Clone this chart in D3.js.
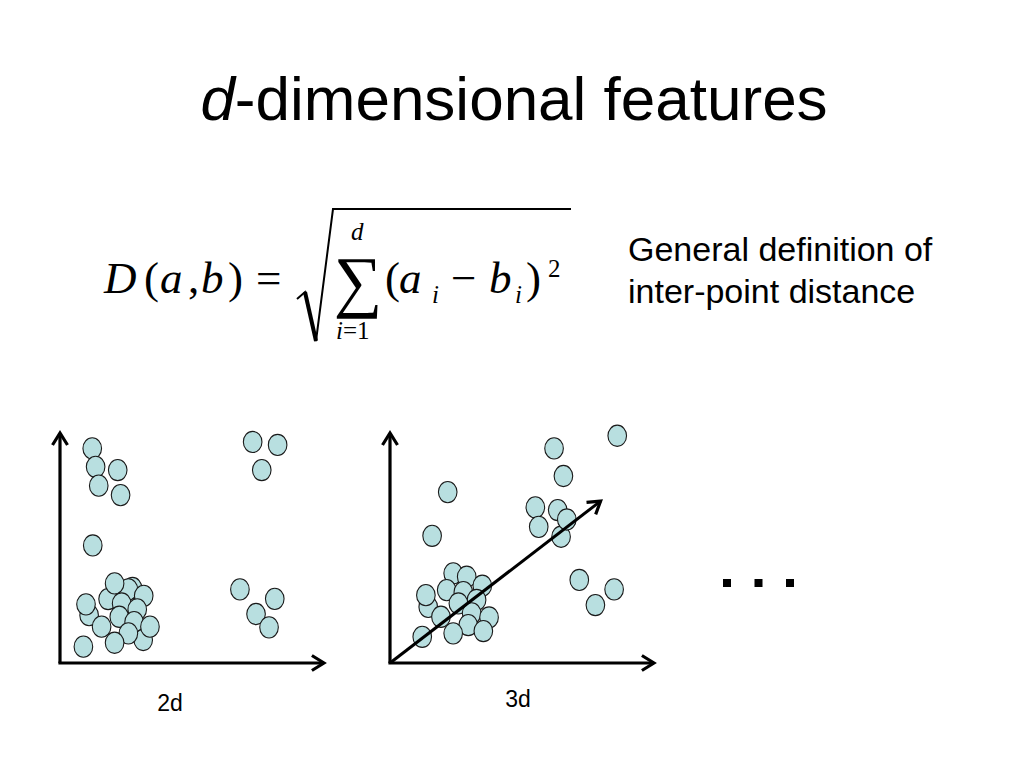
<!DOCTYPE html>
<html>
<head>
<meta charset="utf-8">
<script src="https://cdn.jsdelivr.net/npm/d3@7"></script>
<style>
  html, body { margin: 0; padding: 0; background: #fff; }
  svg { display: block; }
</style>
</head>
<body>
<script>
// ---------- data ----------
const title = ["d", "-dimensional features"];
const noteLines = ["General definition of", "inter-point distance"];
const panelLabels = ["2d", "3d"];

// 2d scatter points (x, y) in 0-100 units
const points2d = [
  [12.4, 93.3], [13.7, 85.3], [22.2, 83.9], [14.9, 77.1], [23.3, 73.0],
  [12.6, 51.1], [74.1, 96.1], [83.7, 94.8], [77.6, 83.9],
  [27.9, 32.6], [26.3, 32.0], [18.5, 27.8], [21.0, 34.6], [23.7, 25.9],
  [32.2, 29.2], [11.2, 20.8], [10.0, 25.5], [29.7, 23.3], [22.8, 20.1],
  [28.5, 17.8], [16.0, 15.8], [32.0, 10.0], [34.6, 15.8], [26.3, 12.9],
  [21.0, 8.8], [9.0, 7.1],
  [69.2, 32.0], [82.6, 27.9], [75.4, 21.3], [80.4, 15.5]
];

// 3d projected scatter points (x, y) in 0-100 units
const points3d = [
  [87.4, 98.8], [63.1, 93.3], [66.7, 81.3], [22.2, 74.3], [55.9, 67.7],
  [64.5, 66.5], [57.2, 59.2], [65.8, 54.9], [68.0, 62.4], [16.2, 55.3],
  [72.8, 36.1], [86.2, 32.0], [79.0, 25.2],
  [24.3, 39.0], [29.5, 37.5], [21.8, 31.7], [35.5, 33.6], [14.7, 24.4],
  [13.8, 29.5], [28.2, 30.8], [33.3, 27.4], [26.3, 25.9], [19.6, 20.1],
  [31.4, 21.6], [38.1, 19.8], [30.1, 16.5], [24.3, 12.9], [35.9, 13.9],
  [12.4, 11.4]
];
const direction3d = [[0, 0], [81.0, 70.4]];
const axisEnds = { x: 101.5, y: 100 };
const ellipsisDots = [0, 1, 2];

// ---------- drawing ----------
const W = 1024, H = 768;
const svg = d3.select("body").append("svg").attr("width", W).attr("height", H);

const defs = svg.append("defs");
defs.append("marker")
  .attr("id", "chev")
  .attr("markerUnits", "userSpaceOnUse")
  .attr("viewBox", "-16 -10 20 20")
  .attr("refX", 0).attr("refY", 0)
  .attr("markerWidth", 20).attr("markerHeight", 20)
  .attr("orient", "auto")
  .append("path")
  .attr("d", "M-12,-7.5 L0,0 L-12,7.5")
  .attr("fill", "none").attr("stroke", "#000")
  .attr("stroke-width", 3.2).attr("stroke-linejoin", "miter");

// Title
const t = svg.append("text")
  .attr("x", 514).attr("y", 120)
  .attr("text-anchor", "middle")
  .attr("font-family", "Liberation Sans, Arial, sans-serif")
  .attr("font-size", 62).attr("fill", "#000");
t.append("tspan").attr("font-style", "italic").text(title[0]);
t.append("tspan").text(title[1]);

// Formula
const serif = "Liberation Serif, Times New Roman, serif";
const fg = svg.append("g").attr("font-family", serif).attr("fill", "#000");
const glyphs = [
  { s: "D", x: 104, y: 293, fs: 45, it: true },
  { s: "(", x: 144, y: 293, fs: 45 },
  { s: "a", x: 160, y: 293, fs: 45, it: true },
  { s: ",", x: 188, y: 293, fs: 45 },
  { s: "b", x: 201, y: 293, fs: 45, it: true },
  { s: ")", x: 228, y: 293, fs: 45 },
  { s: "=", x: 256, y: 293, fs: 45 },
  { s: "d", x: 351, y: 240, fs: 25, it: true },
  { s: "i", x: 336, y: 339, fs: 25, it: true },
  { s: "=1", x: 343, y: 339, fs: 25 },
  { s: "(", x: 385, y: 293, fs: 45 },
  { s: "a", x: 399, y: 293, fs: 45, it: true },
  { s: "i", x: 432, y: 303, fs: 25, it: true },
  { s: "\u2212", x: 451, y: 293, fs: 45 },
  { s: "b", x: 489, y: 293, fs: 45, it: true },
  { s: "i", x: 515, y: 303, fs: 25, it: true },
  { s: ")", x: 526, y: 293, fs: 45 },
  { s: "2", x: 548, y: 277, fs: 25 }
];
fg.selectAll("text.g").data(glyphs).join("text")
  .attr("class", "g")
  .attr("x", d => d.x).attr("y", d => d.y)
  .attr("font-size", d => d.fs)
  .attr("font-style", d => d.it ? "italic" : "normal")
  .text(d => d.s);
// summation sign
fg.append("text")
  .attr("x", 358).attr("y", 304)
  .attr("text-anchor", "middle")
  .attr("font-size", 68)
  .text("\u2211");
// radical
fg.append("path")
  .attr("d", "M297,299 L305,292 L316,341 L333,209 L571,209")
  .attr("fill", "none").attr("stroke", "#000")
  .attr("stroke-width", 2).attr("stroke-linejoin", "miter");
fg.append("path")
  .attr("d", "M305,292 L316,341")
  .attr("stroke", "#000").attr("stroke-width", 4);

// Note
svg.append("g").selectAll("text").data(noteLines).join("text")
  .attr("x", 628).attr("y", (d, i) => 261 + i * 42)
  .attr("font-family", "Liberation Sans, Arial, sans-serif")
  .attr("font-size", 34).attr("fill", "#000")
  .text(d => d);

// Panels
function panel(ox, pts, labelIdx, labelY, withDir) {
  const x = d3.scaleLinear().domain([0, 100]).range([ox, ox + 260]);
  const y = d3.scaleLinear().domain([0, 100]).range([663, 433]);
  const g = svg.append("g");
  g.append("line")
    .attr("x1", x(0)).attr("y1", y(0)).attr("x2", x(0)).attr("y2", y(axisEnds.y))
    .attr("stroke", "#000").attr("stroke-width", 3.2).attr("marker-end", "url(#chev)");
  g.append("line")
    .attr("x1", x(0) - 1.6).attr("y1", y(0)).attr("x2", x(axisEnds.x)).attr("y2", y(0))
    .attr("stroke", "#000").attr("stroke-width", 3.2).attr("marker-end", "url(#chev)");
  g.selectAll("ellipse").data(pts).join("ellipse")
    .attr("cx", d => x(d[0])).attr("cy", d => y(d[1]))
    .attr("rx", 9.3).attr("ry", 10.6)
    .attr("fill", "#b8dfe0").attr("stroke", "#1a1a1a").attr("stroke-width", 1.1);
  if (withDir) {
    g.append("line")
      .attr("x1", x(withDir[0][0])).attr("y1", y(withDir[0][1]))
      .attr("x2", x(withDir[1][0])).attr("y2", y(withDir[1][1]))
      .attr("stroke", "#000").attr("stroke-width", 3).attr("marker-end", "url(#chev)");
  }
  g.append("text")
    .attr("x", labelIdx === 0 ? ox + 110 : ox + 128).attr("y", labelY)
    .attr("text-anchor", "middle")
    .attr("font-family", "Liberation Sans, Arial, sans-serif")
    .attr("font-size", 23).attr("fill", "#000")
    .text(panelLabels[labelIdx]);
}
panel(60, points2d, 0, 711, null);
panel(390, points3d, 1, 707, direction3d);

// Ellipsis
const dotX = d3.scaleLinear().domain([0, 2]).range([727, 790]);
svg.append("g").selectAll("rect").data(ellipsisDots).join("rect")
  .attr("x", d => dotX(d) - 4).attr("y", 579)
  .attr("width", 8).attr("height", 8)
  .attr("fill", "#000");
</script>
</body>
</html>
